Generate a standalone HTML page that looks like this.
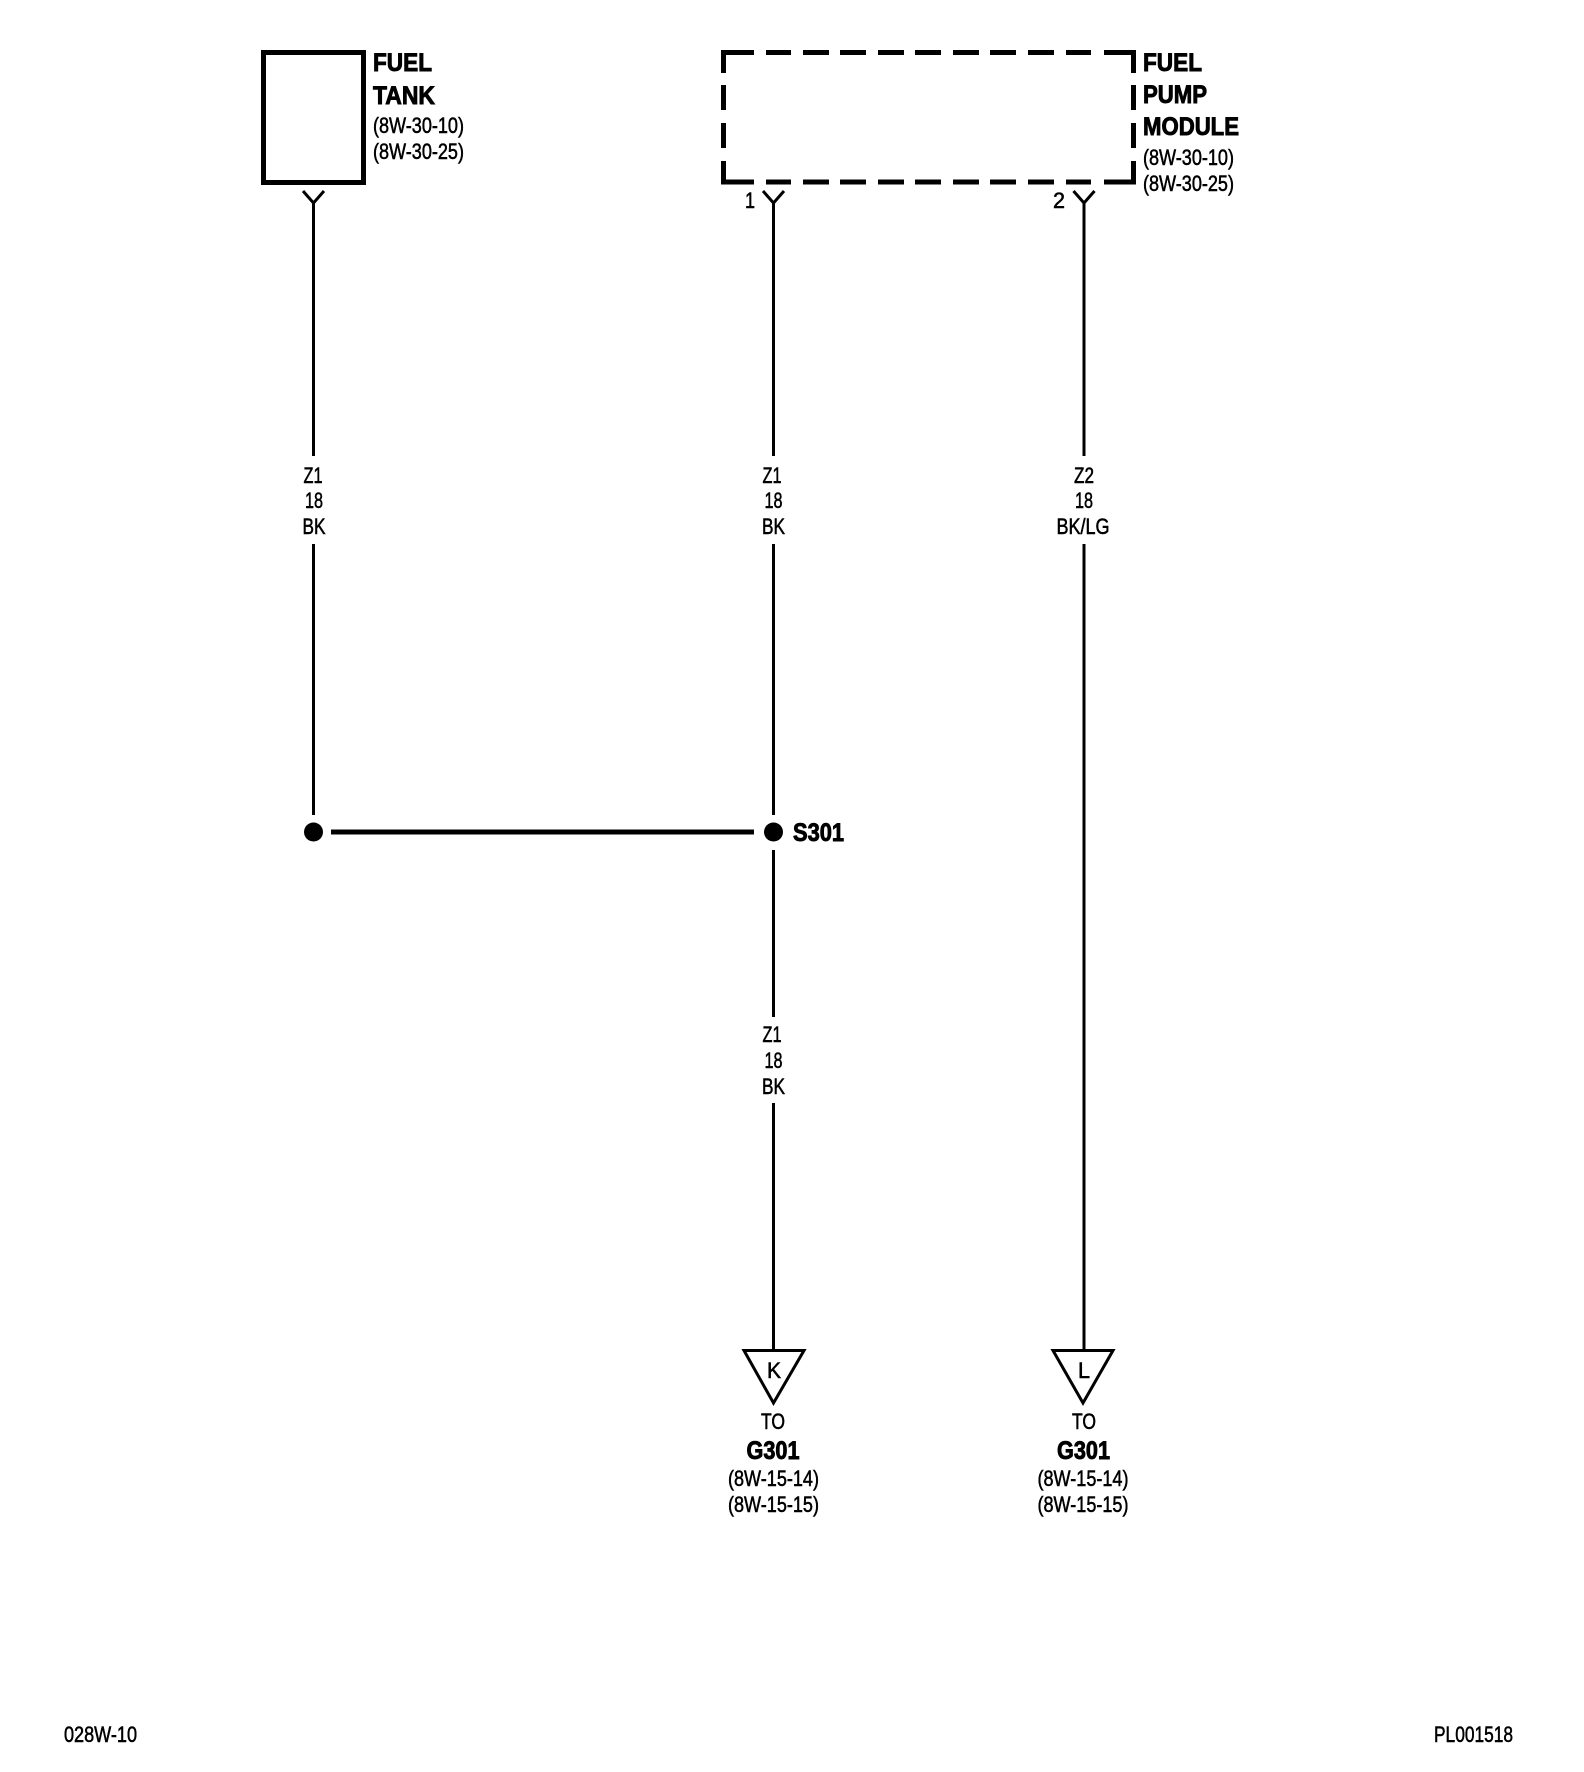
<!DOCTYPE html>
<html>
<head>
<meta charset="utf-8">
<style>
html,body{margin:0;padding:0;background:#fff;width:1584px;height:1772px;overflow:hidden}
svg{display:block}
text{font-family:"Liberation Sans",Arial,sans-serif;fill:#000}
.n{font-size:22px;stroke:#000;stroke-width:.55}
.b{font-size:25px;font-weight:bold;stroke:#000;stroke-width:.9}
.c{text-anchor:middle}
.w{stroke:#000;stroke-width:3;fill:none}
.d{stroke:#000;stroke-width:5;fill:none}
</style>
</head>
<body>
<svg width="1584" height="1772" viewBox="0 0 1584 1772" xmlns="http://www.w3.org/2000/svg">
<rect x="0" y="0" width="1584" height="1772" fill="#fff"/>

<!-- Fuel tank -->
<rect class="d" x="263.5" y="52.5" width="100" height="130"/>
<text class="b" x="373" y="71" textLength="59" lengthAdjust="spacingAndGlyphs">FUEL</text>
<text class="b" x="373" y="104" textLength="62" lengthAdjust="spacingAndGlyphs">TANK</text>
<text class="n" x="373" y="133" textLength="91" lengthAdjust="spacingAndGlyphs">(8W-30-10)</text>
<text class="n" x="373" y="159" textLength="91" lengthAdjust="spacingAndGlyphs">(8W-30-25)</text>

<!-- Fuel pump module dashed box -->
<g class="d">
<path class="d" d="M754 52.5H723.5V73"/>
<path class="d" d="M723.5 85V110M723.5 123V148"/>
<path class="d" d="M723.5 161V182H754"/>
<path class="d" d="M766 52.5H791M803 52.5H829M840 52.5H866M878 52.5H904M915 52.5H941M953 52.5H979M990 52.5H1016M1028 52.5H1054M1066 52.5H1091"/>
<path class="d" d="M766 182H791M803 182H829M840 182H866M878 182H904M915 182H941M953 182H979M990 182H1016M1028 182H1054M1066 182H1091"/>
<path class="d" d="M1104 52.5H1133.5V73M1133.5 85V110M1133.5 123V148M1133.5 161V182H1104"/>
</g>
<text class="b" x="1143" y="71" textLength="59" lengthAdjust="spacingAndGlyphs">FUEL</text>
<text class="b" x="1143" y="103" textLength="64" lengthAdjust="spacingAndGlyphs">PUMP</text>
<text class="b" x="1143" y="135" textLength="96" lengthAdjust="spacingAndGlyphs">MODULE</text>
<text class="n" x="1143" y="165" textLength="91" lengthAdjust="spacingAndGlyphs">(8W-30-10)</text>
<text class="n" x="1143" y="191" textLength="91" lengthAdjust="spacingAndGlyphs">(8W-30-25)</text>

<!-- Connector pins -->
<path class="w" d="M303 191L313.5 203L324 191"/>
<path class="w" d="M763 191L773.5 203L784 191"/>
<path class="w" d="M1073.5 191L1084 203L1094.5 191"/>
<text class="n c" x="750" y="208" textLength="10" lengthAdjust="spacingAndGlyphs">1</text>
<text class="n c" x="1059" y="208" textLength="12" lengthAdjust="spacingAndGlyphs">2</text>

<!-- Wires -->
<path class="w" d="M313.5 203V456M313.5 544V815"/>
<path class="w" d="M773.5 203V456M773.5 544V815M773.5 850V1017M773.5 1103V1350"/>
<path class="w" d="M1084 203V456M1084 544V1350"/>
<path stroke="#000" stroke-width="5" d="M331 832H754"/>
<circle cx="313.5" cy="832" r="9.5" fill="#000"/>
<circle cx="773.5" cy="832" r="9.5" fill="#000"/>
<text class="b" x="793" y="841" textLength="51" lengthAdjust="spacingAndGlyphs">S301</text>

<!-- Wire labels -->
<text class="n c" x="313" y="483" textLength="19" lengthAdjust="spacingAndGlyphs">Z1</text>
<text class="n c" x="314" y="508" textLength="18" lengthAdjust="spacingAndGlyphs">18</text>
<text class="n c" x="314" y="534" textLength="23" lengthAdjust="spacingAndGlyphs">BK</text>

<text class="n c" x="772" y="483" textLength="19" lengthAdjust="spacingAndGlyphs">Z1</text>
<text class="n c" x="773.5" y="508" textLength="18" lengthAdjust="spacingAndGlyphs">18</text>
<text class="n c" x="773.5" y="534" textLength="23" lengthAdjust="spacingAndGlyphs">BK</text>

<text class="n c" x="1084" y="483" textLength="20" lengthAdjust="spacingAndGlyphs">Z2</text>
<text class="n c" x="1084" y="508" textLength="18" lengthAdjust="spacingAndGlyphs">18</text>
<text class="n c" x="1083" y="534" textLength="53" lengthAdjust="spacingAndGlyphs">BK/LG</text>

<text class="n c" x="772" y="1042" textLength="19" lengthAdjust="spacingAndGlyphs">Z1</text>
<text class="n c" x="773.5" y="1068" textLength="18" lengthAdjust="spacingAndGlyphs">18</text>
<text class="n c" x="773.5" y="1094" textLength="23" lengthAdjust="spacingAndGlyphs">BK</text>

<!-- Triangles -->
<polygon points="744,1350.5 804,1350.5 773.5,1403" fill="#fff" stroke="#000" stroke-width="3"/>
<polygon points="1053,1350.5 1113,1350.5 1083,1403" fill="#fff" stroke="#000" stroke-width="3"/>
<text class="n c" x="774" y="1378" textLength="14" lengthAdjust="spacingAndGlyphs">K</text>
<text class="n c" x="1084" y="1378" textLength="12" lengthAdjust="spacingAndGlyphs">L</text>

<!-- Destinations -->
<text class="n c" x="773" y="1429" textLength="24" lengthAdjust="spacingAndGlyphs">TO</text>
<text class="b c" x="773" y="1459" textLength="53" lengthAdjust="spacingAndGlyphs">G301</text>
<text class="n c" x="773.5" y="1486" textLength="91" lengthAdjust="spacingAndGlyphs">(8W-15-14)</text>
<text class="n c" x="773.5" y="1512" textLength="91" lengthAdjust="spacingAndGlyphs">(8W-15-15)</text>

<text class="n c" x="1084" y="1429" textLength="24" lengthAdjust="spacingAndGlyphs">TO</text>
<text class="b c" x="1083.5" y="1459" textLength="53" lengthAdjust="spacingAndGlyphs">G301</text>
<text class="n c" x="1083" y="1486" textLength="91" lengthAdjust="spacingAndGlyphs">(8W-15-14)</text>
<text class="n c" x="1083" y="1512" textLength="91" lengthAdjust="spacingAndGlyphs">(8W-15-15)</text>

<!-- Footer -->
<text class="n" x="64" y="1742" textLength="73" lengthAdjust="spacingAndGlyphs">028W-10</text>
<text class="n" x="1434" y="1742" textLength="79" lengthAdjust="spacingAndGlyphs">PL001518</text>
</svg>
</body>
</html>
